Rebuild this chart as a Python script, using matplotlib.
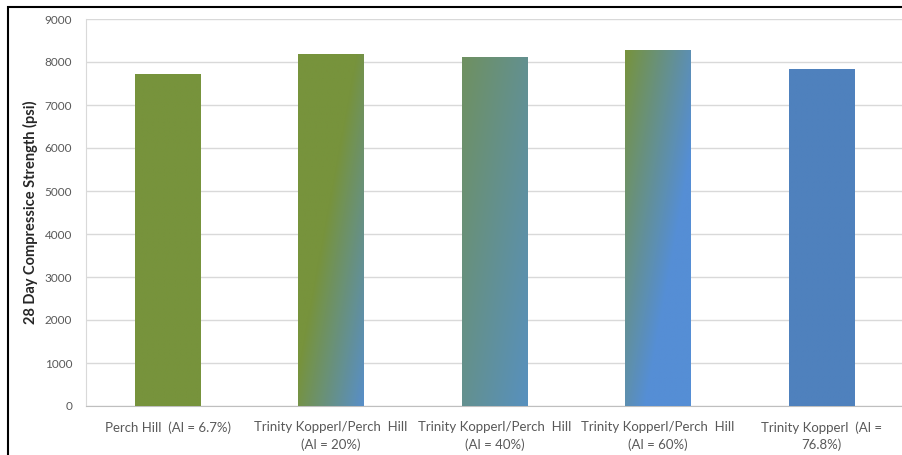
import matplotlib.pyplot as plt
import numpy as np
from matplotlib.colors import to_rgb
from matplotlib.patches import Rectangle

# data
categories = ['Perch Hill  (Al = 6.7%)',
              'Trinity Kopperl/Perch  Hill\n(Al = 20%)',
              'Trinity Kopperl/Perch  Hill\n(Al = 40%)',
              'Trinity Kopperl/Perch  Hill\n(Al = 60%)',
              'Trinity Kopperl  (Al =\n76.8%)']
strength = [7730, 8185, 8125, 8290, 7845]
yticks = [0, 1000, 2000, 3000, 4000, 5000, 6000, 7000, 8000, 9000]

# gradient fill per bar: start colour, end colour, ramp start/end along the diagonal
green = '#77933C'
blue = '#558ED5'
fills = [(green, green, 0.0, 1.0),
         (green, blue, 0.45, 1.05),
         ('#6F9160', '#5590C8', 0.0, 1.1),
         (green, blue, 0.0, 0.65),
         ('#4F81BD', '#4F81BD', 0.0, 1.0)]

plt.rcParams['font.family'] = ['Lato', 'DejaVu Sans']

fig = plt.figure(figsize=(9.02, 4.55), dpi=100)
ax = fig.add_axes([86 / 902, 1 - 406 / 455, 817 / 902, 387 / 455])

x = np.arange(len(categories))
bars = ax.bar(x, strength, width=0.4, color='none', zorder=3)

# paint each bar with a diagonal gradient clipped to the bar
for b, (c0, c1, p0, p1) in zip(bars, fills):
    x0, y0 = b.get_x(), b.get_y()
    w, h = b.get_width(), b.get_height()
    fx, fy = np.meshgrid(np.linspace(0, 1, 60), np.linspace(0, 1, 300))
    p = (fx + fy) / 2          # row 0 is the top: 0 top-left -> 1 bottom-right
    s = np.clip((p - p0) / (p1 - p0), 0, 1)[..., None]
    img = (1 - s) * np.array(to_rgb(c0)) + s * np.array(to_rgb(c1))
    im = ax.imshow(img, extent=(x0, x0 + w, y0, y0 + h), origin='upper',
                   aspect='auto', interpolation='bilinear', zorder=3)
    im.set_clip_path(b)

ax.set_xlim(-0.5, len(categories) - 0.5)
ax.set_ylim(0, 9000)
ax.set_yticks(yticks)
ax.set_xticks(x)
ax.set_xticklabels(categories, fontsize=9.5, color='#595959', linespacing=1.45)
ax.tick_params(axis='y', labelsize=8.5, colors='#595959', length=0, pad=10)
ax.tick_params(axis='x', length=0, pad=11)
ax.grid(axis='y', color='#d9d9d9', linewidth=1, zorder=0)
ax.set_axisbelow(True)
for side in ['top', 'right']:
    ax.spines[side].set_visible(False)
ax.spines['left'].set_color('#d9d9d9')
ax.spines['bottom'].set_color('#bfbfbf')

ax.set_ylabel('28 Day Compressice Strength (psi)', fontsize=10.5,
              fontweight='bold', color='#262626', labelpad=5)

# black frame round the picture
fig.patches.append(Rectangle((8 / 902, -0.05), 1.2, 1.05 - 7 / 455,
                             transform=fig.transFigure, fill=False,
                             edgecolor='black', linewidth=1.5))

fig.savefig('out.png', dpi=100)
